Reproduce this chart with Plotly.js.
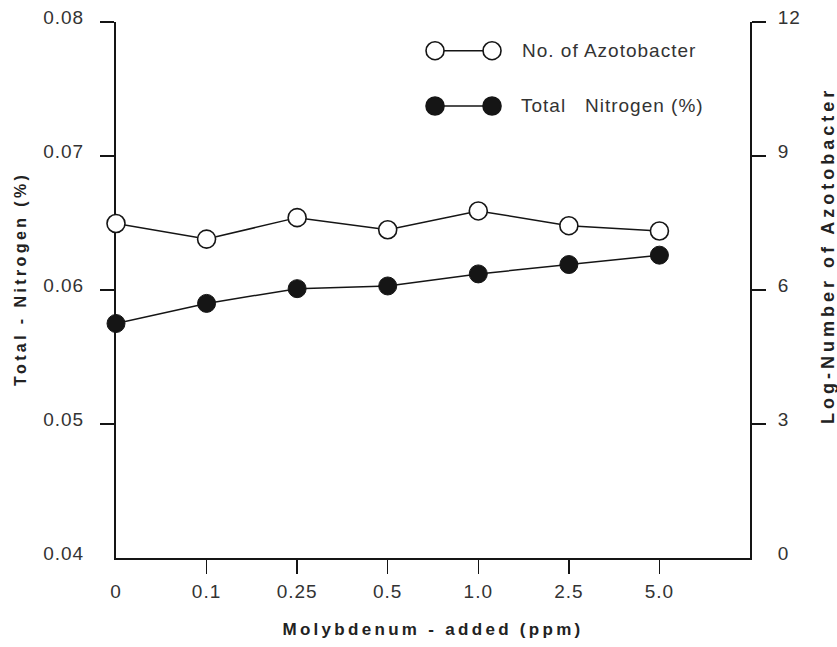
<!DOCTYPE html>
<html>
<head>
<meta charset="utf-8">
<script src="https://cdn.plot.ly/plotly-3.0.1.min.js"></script>
<style>
  html, body { margin: 0; padding: 0; background: #fff; }
  #chart { width: 837px; height: 647px; }
  g.xtick text, g.ytick text, g.y2tick text { letter-spacing: 1px; }
  text.xtitle { letter-spacing: 3.3px; }
  g.annotation[data-index="0"] text, g.annotation[data-index="1"] text { letter-spacing: 1px; }
  g.annotation[data-index="2"] text { letter-spacing: 3.4px; }
  g.annotation[data-index="3"] text { letter-spacing: 4px; }
</style>
</head>
<body>
<div id="chart"></div>
<script>
// ---- data ----
const doseLabels = ["0", "0.1", "0.25", "0.5", "1.0", "2.5", "5.0"];
const doseIndex = [0, 1, 2, 3, 4, 5, 6];
const totalNitrogen = [0.0575, 0.0590, 0.0601, 0.0603, 0.0612, 0.0619, 0.0626];
const logAzotobacter = [7.49, 7.14, 7.62, 7.35, 7.77, 7.44, 7.32];
const leftTickVals = [0.04, 0.05, 0.06, 0.07, 0.08];
const leftTickText = ["0.04", "0.05", "0.06", "0.07", "0.08"];
const rightTickVals = [0, 3, 6, 9, 12];
const rightTickText = ["0", "3", "6", "9", "12"];
const legendNames = ["No. of Azotobacter", "Total   Nitrogen (%)"];
const xTitle = "Molybdenum - added (ppm)";
const yTitle = "Total - Nitrogen (%)";
const y2Title = "Log-Number of Azotobacter";

const ink = "#151515";
const fam = "Liberation Sans, Arial, sans-serif";
const tickFont = { family: fam, size: 19, color: "#333" };

const traces = [
  {
    x: doseIndex, y: totalNitrogen, yaxis: "y", type: "scatter", mode: "lines+markers",
    name: legendNames[1], showlegend: false, cliponaxis: false,
    line: { color: ink, width: 1.5 },
    marker: { symbol: "circle", size: 18, color: ink, line: { color: ink, width: 1 } }
  },
  {
    x: doseIndex, y: logAzotobacter, yaxis: "y2", type: "scatter", mode: "lines+markers",
    name: legendNames[0], showlegend: false, cliponaxis: false,
    line: { color: ink, width: 1.5 },
    marker: { symbol: "circle", size: 18, color: "#fff", line: { color: ink, width: 1.6 } }
  }
];

// legend (drawn manually: marker — line — marker, then label)
const legRows = [0.9465, 0.8433];
const legX0 = 0.5032, legX1 = 0.5931, legText = 0.652;
const shapes = [];
const annotations = [];
legRows.forEach((yy, i) => {
  shapes.push({ type: "line", xref: "paper", yref: "paper", x0: legX0, x1: legX1, y0: yy, y1: yy,
                line: { color: ink, width: 1.5 } });
  [legX0, legX1].forEach(xx => {
    shapes.push({ type: "circle", xref: "paper", yref: "paper", xsizemode: "pixel", ysizemode: "pixel",
                  xanchor: xx, yanchor: yy, x0: -9, x1: 9, y0: -9, y1: 9,
                  fillcolor: i === 0 ? "#fff" : ink, line: { color: ink, width: 1.6 } });
  });
  annotations.push({ xref: "paper", yref: "paper", x: legText, y: yy, xanchor: "left", yanchor: "middle",
                     text: legendNames[i], showarrow: false, font: tickFont });
});
// vertical axis titles placed as in the reference
annotations.push({ xref: "paper", yref: "paper", x: -0.1514, y: 0.5205, xanchor: "center", yanchor: "middle",
                   textangle: -90, text: yTitle, showarrow: false,
                   font: { family: fam, size: 16, color: "#222", weight: "bold" } });
annotations.push({ xref: "paper", yref: "paper", x: 1.123, y: 0.5653, xanchor: "center", yanchor: "middle",
                   textangle: -90, text: y2Title, showarrow: false,
                   font: { family: fam, size: 18, color: "#222", weight: "bold" } });

const layout = {
  width: 837, height: 647,
  margin: { l: 116, r: 87, t: 22, b: 89 },
  paper_bgcolor: "#fff", plot_bgcolor: "#fff",
  showlegend: false,
  xaxis: {
    range: [0, 7], tickmode: "array", tickvals: doseIndex, ticktext: doseLabels,
    showline: true, linecolor: ink, linewidth: 2, showgrid: false, zeroline: false,
    ticks: "", ticklabelstandoff: 15, tickfont: tickFont,
    minor: { tickmode: "array", tickvals: [1, 2, 3, 4, 5, 6], ticks: "outside", ticklen: 14, tickwidth: 1.5, tickcolor: ink },
    title: { text: xTitle, font: { family: fam, size: 17, color: "#222", weight: "bold" }, standoff: 22 },
    layer: "below traces"
  },
  yaxis: {
    range: [0.04, 0.08], tickmode: "array", tickvals: leftTickVals, ticktext: leftTickText,
    showline: true, linecolor: ink, linewidth: 2, showgrid: false, zeroline: false,
    ticks: "", ticklabelstandoff: 26, ticklabelshift: -5, tickfont: tickFont,
    minor: { tickmode: "array", tickvals: [0.05, 0.06, 0.07, 0.08], ticks: "outside", ticklen: 14, tickwidth: 1.5, tickcolor: ink },
    layer: "below traces"
  },
  yaxis2: {
    range: [0, 12], overlaying: "y", side: "right", anchor: "x",
    tickmode: "array", tickvals: rightTickVals, ticktext: rightTickText,
    showline: true, linecolor: ink, linewidth: 2, showgrid: false, zeroline: false,
    ticks: "", ticklabelstandoff: 22, ticklabelshift: -5, tickfont: tickFont,
    minor: { tickmode: "array", tickvals: [3, 6, 9, 12], ticks: "outside", ticklen: 14, tickwidth: 1.5, tickcolor: ink },
    layer: "below traces"
  },
  shapes: shapes,
  annotations: annotations
};

Plotly.newPlot("chart", traces, layout, { displayModeBar: false, staticPlot: true });
</script>
</body>
</html>
